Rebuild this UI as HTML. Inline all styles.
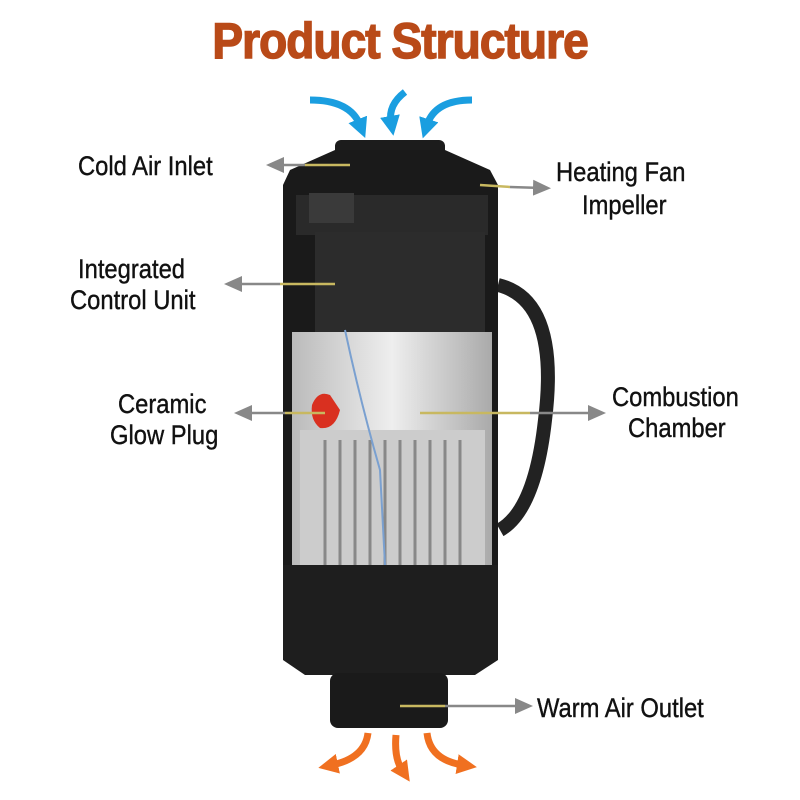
<!DOCTYPE html>
<html><head><meta charset="utf-8"><style>
body{margin:0;width:800px;height:800px;background:#fff;overflow:hidden;position:relative;font-family:"Liberation Sans",sans-serif}
.t{position:absolute;font-size:27px;color:#111;transform:scaleX(.88);transform-origin:left top;line-height:30px;white-space:nowrap;-webkit-text-stroke:.4px #111}
h1{position:absolute;left:0;width:800px;top:12px;margin:0;text-align:center;font-size:50px;font-weight:bold;color:#b94a18;letter-spacing:-1px;-webkit-text-stroke:1.5px #b94a18}
</style></head><body>
<h1><span style="display:inline-block;transform:scaleX(.92)">Product Structure</span></h1>
<svg width="800" height="800" style="position:absolute;left:0;top:0">
<defs>
<marker id="g" markerUnits="userSpaceOnUse" markerWidth="18" markerHeight="16" refX="9" refY="8" orient="auto"><path d="M0,0L18,8L0,16z" fill="#888"/></marker>
<marker id="b" markerUnits="userSpaceOnUse" markerWidth="20" markerHeight="20" refX="6" refY="10" orient="auto"><path d="M0,0L20,10L0,20z" fill="#1a9ee0"/></marker>
<marker id="o" markerUnits="userSpaceOnUse" markerWidth="20" markerHeight="20" refX="6" refY="10" orient="auto"><path d="M0,0L20,10L0,20z" fill="#f07020"/></marker>
<linearGradient id="al" x1="0" x2="1"><stop offset="0" stop-color="#bbb"/><stop offset=".5" stop-color="#eee"/><stop offset="1" stop-color="#aaa"/></linearGradient>
</defs>
<path d="M310,100 Q350,100 360,125" stroke="#1a9ee0" stroke-width="7" fill="none" marker-end="url(#b)"/>
<path d="M405,92 Q388,105 391,122" stroke="#1a9ee0" stroke-width="7" fill="none" marker-end="url(#b)"/>
<path d="M472,100 Q435,100 427,125" stroke="#1a9ee0" stroke-width="7" fill="none" marker-end="url(#b)"/>
<path d="M498,285 Q560,300 545,420 Q535,510 500,530" stroke="#222" stroke-width="14" fill="none"/>
<rect x="335" y="140" width="110" height="40" rx="6" fill="#1c1c1c"/>
<path d="M290,170 L335,150 L445,150 L490,170 L498,185 L498,570 L283,570 L283,185 Z" fill="#1a1a1a"/>
<rect x="296" y="195" width="192" height="40" fill="#2a2a2a"/>
<rect x="309" y="193" width="45" height="30" fill="#3a3a3a"/>
<rect x="315" y="232" width="170" height="100" fill="#2c2c2c"/>
<rect x="292" y="332" width="200" height="235" fill="url(#al)"/>
<rect x="300" y="430" width="185" height="138" fill="#ccc"/>
<g stroke="#888" stroke-width="3">
<line x1="325" y1="440" x2="325" y2="568"/><line x1="340" y1="440" x2="340" y2="568"/><line x1="355" y1="440" x2="355" y2="568"/><line x1="370" y1="440" x2="370" y2="568"/><line x1="385" y1="440" x2="385" y2="568"/><line x1="400" y1="440" x2="400" y2="568"/><line x1="415" y1="440" x2="415" y2="568"/><line x1="430" y1="440" x2="430" y2="568"/><line x1="445" y1="440" x2="445" y2="568"/><line x1="460" y1="440" x2="460" y2="568"/></g>
<path d="M345,330 Q360,400 380,470 L385,565" stroke="#7aa0d0" stroke-width="2" fill="none"/>
<path d="M312,405 Q318,390 330,395 L340,410 Q335,430 320,428 Q310,420 312,405Z" fill="#d93020"/>
<path d="M283,565 L498,565 L498,660 L475,675 L305,675 L283,660Z" fill="#1e1e1e"/>
<rect x="330" y="673" width="118" height="55" rx="8" fill="#1a1a1a"/>
<path d="M368,733 Q365,758 332,765" stroke="#f07020" stroke-width="7" fill="none" marker-end="url(#o)"/>
<path d="M396,735 Q394,758 402,770" stroke="#f07020" stroke-width="7" fill="none" marker-end="url(#o)"/>
<path d="M427,733 Q430,760 463,765" stroke="#f07020" stroke-width="7" fill="none" marker-end="url(#o)"/>
<g stroke-width="2.5" fill="none">
<line x1="350" y1="165" x2="305" y2="165" stroke="#c8b860"/><line x1="305" y1="165" x2="275" y2="165" stroke="#888" marker-end="url(#g)"/>
<line x1="480" y1="185" x2="510" y2="187" stroke="#c8b860"/><line x1="510" y1="187" x2="542" y2="188" stroke="#888" marker-end="url(#g)"/>
<line x1="335" y1="284" x2="280" y2="284" stroke="#c8b860"/><line x1="280" y1="284" x2="233" y2="284" stroke="#888" marker-end="url(#g)"/>
<line x1="325" y1="413" x2="285" y2="413" stroke="#c8b860"/><line x1="285" y1="413" x2="243" y2="413" stroke="#888" marker-end="url(#g)"/>
<line x1="420" y1="413" x2="530" y2="413" stroke="#c8b860"/><line x1="530" y1="413" x2="597" y2="413" stroke="#888" marker-end="url(#g)"/>
<line x1="400" y1="706" x2="445" y2="706" stroke="#c8b860"/><line x1="445" y1="706" x2="524" y2="706" stroke="#888" marker-end="url(#g)"/>
</g>
</svg>
<div class="t" style="left:78px;top:151px">Cold Air Inlet</div>
<div class="t" style="left:556px;top:157px">Heating Fan</div>
<div class="t" style="left:582px;top:190px">Impeller</div>
<div class="t" style="left:78px;top:254px">Integrated</div>
<div class="t" style="left:70px;top:285px">Control Unit</div>
<div class="t" style="left:118px;top:389px">Ceramic</div>
<div class="t" style="left:110px;top:420px">Glow Plug</div>
<div class="t" style="left:612px;top:382px">Combustion</div>
<div class="t" style="left:628px;top:413px">Chamber</div>
<div class="t" style="left:537px;top:693px">Warm Air Outlet</div>
</body></html>
